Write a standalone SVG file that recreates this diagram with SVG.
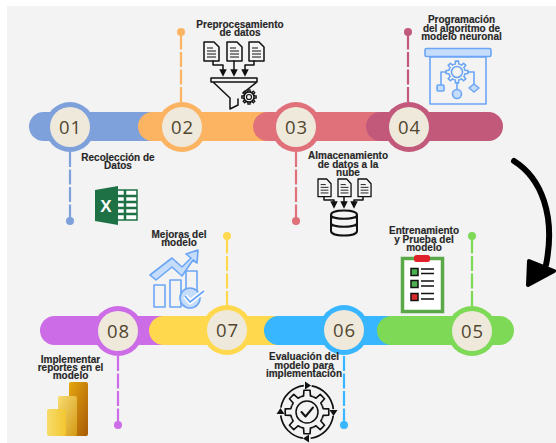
<svg xmlns="http://www.w3.org/2000/svg" width="556" height="443" viewBox="0 0 556 443">
<defs>
<style>
.t{font-family:"Liberation Sans",Arial,sans-serif;font-weight:700;font-size:10px;fill:#262626;text-anchor:middle;stroke:#262626;stroke-width:.15}
.n{font-family:"Open Sans","Liberation Sans",sans-serif;font-size:18.500px;fill:#51462f;text-anchor:middle;letter-spacing:1px}
.in{fill:#efe9dc}
.d{stroke-width:2.2;stroke-dasharray:15 2.5;fill:none}
.k{fill:none;stroke:#111;stroke-width:1.5;stroke-linejoin:round;stroke-linecap:round}
.b{fill:none;stroke:#6ba6f5;stroke-width:1.6;stroke-linejoin:round}
.bf{fill:#c6dcfb;stroke:#6ba6f5;stroke-width:1.6;stroke-linejoin:round}
</style>
<g id="doc">
<path d="M0 0h10l5 5v14H0z" fill="#f5f5f5" stroke="#111" stroke-width="1.500" stroke-linejoin="round"/>
<path d="M3 6h6M3 9h9M3 12h9M3 15h9" fill="none" stroke="#111" stroke-width="1"/>
</g>
<path id="tooth" d="M-5.740 -13.860L-3.120 -14.670L-2.780 -19.800H2.780L3.120 -14.670L5.740 -13.860"/>
<g id="gear">
<use href="#tooth"/><use href="#tooth" transform="rotate(45)"/><use href="#tooth" transform="rotate(90)"/><use href="#tooth" transform="rotate(135)"/>
<use href="#tooth" transform="rotate(180)"/><use href="#tooth" transform="rotate(225)"/><use href="#tooth" transform="rotate(270)"/><use href="#tooth" transform="rotate(315)"/>
</g>
<marker id="ah" markerWidth="5" markerHeight="5" refX="2.500" refY="2.500" orient="auto"><path d="M0 0L5 2.500L0 5z" fill="#111"/></marker>
<linearGradient id="p1" x1="0" y1="0" x2="1" y2="0"><stop offset="0" stop-color="#f7dc6b"/><stop offset="1" stop-color="#f2c62f"/></linearGradient>
<linearGradient id="p2" x1="0" y1="0" x2="1" y2="1"><stop offset="0" stop-color="#f8dc72"/><stop offset="1" stop-color="#d39a16"/></linearGradient>
<linearGradient id="p3" x1="0" y1="0" x2="1" y2="1"><stop offset="0" stop-color="#e5a70f"/><stop offset="1" stop-color="#a85a06"/></linearGradient>
</defs>
<rect width="556" height="443" fill="#fff"/>
<rect x="7" y="6" width="549" height="437" fill="#f3f3f3"/>

<g id="connectors">
<path class="d" stroke="#7ea1dc" d="M70 152V221"/><circle cx="70" cy="221" r="4" fill="#7ea1dc"/>
<path class="d" stroke="#fdb462" d="M181 102V32"/><circle cx="181" cy="32" r="4" fill="#fdb462"/>
<path class="d" stroke="#e0707a" d="M296 152V221"/><circle cx="296" cy="221" r="4" fill="#e0707a"/>
<path class="d" stroke="#c2587a" d="M408 102V32"/><circle cx="408" cy="32" r="4" fill="#c2587a"/>
<path class="d" stroke="#cc6ce7" d="M118 356V425"/><circle cx="118" cy="425" r="4" fill="#cc6ce7"/>
<path class="d" stroke="#ffd84d" d="M227 306V236"/><circle cx="227" cy="236" r="4" fill="#ffd84d"/>
<path class="d" stroke="#38b6ff" d="M344 356V425"/><circle cx="344" cy="425" r="4" fill="#38b6ff"/>
<path class="d" stroke="#7ed957" d="M472 306V236"/><circle cx="472" cy="236" r="4" fill="#7ed957"/>
<path fill="none" stroke="#000" stroke-width="6" stroke-linecap="round" d="M514 161C541 178 556 215 546 265"/>
<path fill="#000" stroke="#000" stroke-width="4" stroke-linejoin="round" d="M529 261L554 271L528 285Z"/>
</g>

<g id="bars">
<rect x="29" y="112" width="150" height="29" rx="14.500" fill="#7ea1dc"/>
<rect x="138" y="112" width="150" height="29" rx="14.500" fill="#fdb462"/>
<rect x="253" y="112" width="150" height="29" rx="14.500" fill="#e0707a"/>
<rect x="366" y="112" width="137" height="29" rx="14.500" fill="#c2587a"/>
<rect x="40" y="316" width="150" height="29" rx="14.500" fill="#cc6ce7"/>
<rect x="149" y="316" width="150" height="29" rx="14.500" fill="#ffd84d"/>
<rect x="264" y="316" width="150" height="29" rx="14.500" fill="#38b6ff"/>
<rect x="377" y="316" width="137" height="29" rx="14.500" fill="#7ed957"/>
</g>

<g id="node-01">
<circle cx="70" cy="127" r="25" fill="#7ea1dc"/><circle class="in" cx="70" cy="127" r="20"/>
<text class="n" x="70.500" y="134">01</text>
<text class="t" x="118"><tspan x="118" y="161">Recolección de</tspan><tspan x="118" y="169">Datos</tspan></text>
<path d="M95 190L118 186V225L95 221Z" fill="#1e7145"/>
<path d="M118 190H137V220H118" fill="#fff" stroke="#1e7145" stroke-width="1.500"/>
<path d="M118 196H137M118 202H137M118 208H137M118 214H137M125 190V220" stroke="#1e7145" stroke-width="2.500" fill="none"/>
<text x="106" y="212" style="font-family:'Liberation Sans',sans-serif;font-weight:700;font-size:17px;fill:#fff" text-anchor="middle">X</text>
</g>

<g id="node-02">
<circle cx="182" cy="127" r="25" fill="#fdb462"/><circle class="in" cx="182" cy="127" r="20"/>
<text class="n" x="182.500" y="134">02</text>
<text class="t"><tspan x="240" y="27.500">Preprocesamiento</tspan><tspan x="240" y="35.500">de datos</tspan></text>
<use href="#doc" x="204" y="42"/><use href="#doc" x="227" y="42"/><use href="#doc" x="249" y="42"/>
<path class="k" marker-end="url(#ah)" d="M213 61V65H223V73"/>
<path class="k" marker-end="url(#ah)" d="M234 61V73"/>
<path class="k" marker-end="url(#ah)" d="M254 61V65H245V73"/>
<path class="k" d="M211 78H257V82H211ZM213 82L230 98V109L238 105V99M257 82L243 93"/>
<use href="#gear" transform="translate(249 97) scale(.36)" style="fill:none;stroke:#111;stroke-width:3.800"/>
<circle cx="249" cy="97" r="5" fill="none" stroke="#111" stroke-width="1.400"/><circle cx="249" cy="97" r="2.500" fill="none" stroke="#111" stroke-width="1.200"/>
</g>

<g id="node-03">
<circle cx="296" cy="127" r="25" fill="#e0707a"/><circle class="in" cx="296" cy="127" r="20"/>
<text class="n" x="296.500" y="134">03</text>
<text class="t"><tspan x="348" y="159">Almacenamiento</tspan><tspan x="348" y="167.500">de datos a la</tspan><tspan x="348" y="175.500">nube</tspan></text>
<use href="#doc" transform="translate(318 179) scale(.87 .93)"/><use href="#doc" transform="translate(338 179) scale(.87 .93)"/><use href="#doc" transform="translate(358 179) scale(.87 .93)"/>
<path class="k" marker-end="url(#ah)" d="M324 197V200H334V205"/>
<path class="k" marker-end="url(#ah)" d="M344 197V205"/>
<path class="k" marker-end="url(#ah)" d="M363 197V200H354V205"/>
<path class="k" style="stroke-width:2" d="M331 215C331 209 357 209 357 215V231C357 237 331 237 331 231ZM331 215C331 220 357 220 357 215M331 223C331 228 357 228 357 223"/>
</g>

<g id="node-04">
<circle cx="409" cy="127" r="25" fill="#c2587a"/><circle class="in" cx="409" cy="127" r="20"/>
<text class="n" x="409.500" y="134">04</text>
<text class="t"><tspan x="461.500" y="23">Programación</tspan><tspan x="461.500" y="31.500">del algoritmo de</tspan><tspan x="461.500" y="39.500">modelo neuronal</tspan></text>
<rect class="bf" x="425" y="48.500" width="66" height="8" rx="1.500"/>
<rect class="b" x="430" y="57" width="56" height="47"/>
<circle class="b" cx="457" cy="72" r="5.500"/>
<use href="#gear" transform="translate(457 72) scale(.55)" style="fill:none;stroke:#6ba6f5;stroke-width:2.800"/>
<path class="b" d="M447 72H441V85M467 72H474V84M457 83V90"/>
<rect class="bf" x="437" y="85" width="7" height="6" rx="1"/>
<circle class="bf" cx="457" cy="94" r="4.500"/>
<path class="bf" d="M474 84L479 88L474 92L469 88Z"/>
</g>

<g id="node-05">
<circle cx="472" cy="331" r="25" fill="#7ed957"/><circle class="in" cx="472" cy="331" r="20"/>
<text class="n" x="472.500" y="338">05</text>
<text class="t"><tspan x="424" y="234">Entrenamiento</tspan><tspan x="424" y="242.500">y Prueba del</tspan><tspan x="424" y="250.500">modelo</tspan></text>
<rect x="402.500" y="258.500" width="40" height="53" fill="#fff" stroke="#5aa848" stroke-width="3.500"/>
<rect x="414" y="255" width="16" height="7" rx="2.500" fill="#e0202a"/>
<rect x="411" y="268.500" width="7" height="7" fill="#4caf50" stroke="#111" stroke-width="1.500"/>
<rect x="411" y="280.500" width="7" height="7" fill="#4caf50" stroke="#111" stroke-width="1.500"/>
<rect x="411" y="293.500" width="7" height="7" fill="#d92b2b" stroke="#111" stroke-width="1.500"/>
<path d="M421 269H434M421 273.500H434M421 281H434M421 286H434M421 293.500H434M421 299H434" stroke="#111" stroke-width="1.500" fill="none"/>
</g>

<g id="node-06">
<circle cx="344" cy="330" r="25" fill="#38b6ff"/><circle class="in" cx="344" cy="330" r="20"/>
<text class="n" x="344.500" y="337">06</text>
<text class="t"><tspan x="304" y="360">Evaluación del</tspan><tspan x="304" y="368.500">modelo para</tspan><tspan x="304" y="376.500">implementación</tspan></text>
<circle cx="307" cy="412" r="26.500" fill="none" stroke="#111" stroke-width="1.700" stroke-dasharray="33.600 8" stroke-dashoffset="-4"/>
<path fill="#111" d="M305 381.500L311 385.500L305 389.500ZM329.500 410H337.500L333.500 416ZM309 434.500L303 438.500L309 442.500ZM276.500 414H284.500L280.500 408Z"/>
<use href="#gear" transform="translate(307 412) scale(1.100)" style="fill:none;stroke:#111;stroke-width:1.500;stroke-linejoin:round"/>
<circle class="k" cx="307" cy="412" r="11"/>
<path class="k" style="stroke-width:2" d="M301.500 412L305.500 416.500L313 407.500"/>
</g>

<g id="node-07">
<circle cx="227" cy="330" r="25" fill="#ffd84d"/><circle class="in" cx="227" cy="330" r="20"/>
<text class="n" x="227.500" y="337">07</text>
<text class="t"><tspan x="179" y="238">Mejoras del</tspan><tspan x="179" y="246">modelo</tspan></text>
<path class="bf" d="M150 275L172 258L182 267L191 258L186 254L198 250L197 263L193 260L182 276L172 267L156 280Z"/>
<rect class="b" x="154" y="285" width="11" height="22"/>
<rect class="b" x="170" y="280" width="11" height="27"/>
<rect class="b" x="186" y="271" width="11" height="25"/>
<circle class="bf" cx="190" cy="298" r="10"/>
<path d="M185 296L190 302L204 291" fill="none" stroke="#fff" stroke-width="5" stroke-linejoin="round"/>
<path d="M185 296L190 302L204 291" fill="none" stroke="#6ba6f5" stroke-width="1.800" stroke-linejoin="round"/>
</g>

<g id="node-08">
<circle cx="118" cy="331" r="25" fill="#cc6ce7"/><circle class="in" cx="118" cy="331" r="20"/>
<text class="n" x="118.500" y="338">08</text>
<text class="t"><tspan x="70.500" y="363">Implementar</tspan><tspan x="70.500" y="371">reportes en el</tspan><tspan x="70.500" y="379">modelo</tspan></text>
<rect x="69" y="382" width="19" height="54" rx="2" fill="url(#p3)"/>
<rect x="58" y="396" width="19" height="40" rx="2" fill="url(#p2)"/>
<rect x="47" y="409" width="19" height="27" rx="2" fill="url(#p1)"/>
</g>
</svg>
